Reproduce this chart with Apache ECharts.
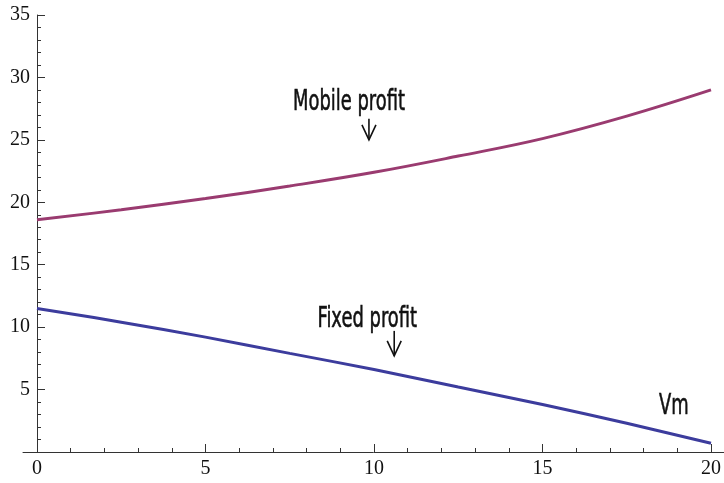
<!DOCTYPE html>
<html>
<head>
<meta charset="utf-8">
<style>
  html, body { margin: 0; padding: 0; background: #fff; }
  #chart { width: 724px; height: 483px; }
</style>
<script src="https://cdn.jsdelivr.net/npm/echarts@6/dist/echarts.min.js"></script>
</head>
<body>
<div id="chart"></div>
<script>
// Vm values sampled along the horizontal axis
const vm = [0, 2.5, 5, 7.5, 10, 12.5, 15, 17.5, 20];
// Profit curves
const mobileProfit = [18.6, 19.4, 20.3, 21.3, 22.4, 23.7, 25.1, 26.9, 29.0];
const fixedProfit  = [11.5, 10.4, 9.2, 7.9, 6.6, 5.2, 3.8, 2.3, 0.7];
// Axis ticks
const xTicks = [0, 5, 10, 15, 20];
const yTicks = [0, 5, 10, 15, 20, 25, 30, 35];

const MOBILE_COLOR = '#9a3b70';
const FIXED_COLOR = '#3c3c9d';
const AXIS_COLOR = '#333';
const TICK_FONT = '"Liberation Serif", "Times New Roman", serif';
const NOTE_FONT = '"DejaVu Sans", sans-serif';

const chart = echarts.init(document.getElementById('chart'), null, { renderer: 'canvas' });

const pairs = (xs, ys) => xs.map((x, i) => [x, ys[i]]);

const option = {
  animation: false,
  backgroundColor: '#fff',
  grid: [
    { left: 37, right: 11, top: 15, bottom: 31 },
    { left: 23, right: 0, top: 15, bottom: 31 }
  ],
  xAxis: [
    {
      type: 'value', gridIndex: 0,
      min: xTicks[0], max: xTicks[xTicks.length - 1], interval: 5,
      axisLine: { show: false },
      axisTick: { show: true, inside: true, length: 8, lineStyle: { color: AXIS_COLOR } },
      minorTick: { show: true, splitNumber: 5, length: 4, lineStyle: { color: AXIS_COLOR } },
      splitLine: { show: false },
      axisLabel: { color: '#111', fontFamily: TICK_FONT, fontSize: 20, margin: 7 }
    },
    {
      // full-width baseline that runs a little past the vertical axis
      type: 'value', gridIndex: 1, min: 0, max: 1,
      axisLine: { show: true, lineStyle: { color: AXIS_COLOR, width: 1 } },
      axisTick: { show: false }, axisLabel: { show: false }, splitLine: { show: false }
    }
  ],
  yAxis: [
    {
      type: 'value', gridIndex: 0,
      min: yTicks[0], max: yTicks[yTicks.length - 1], interval: 5,
      axisLine: { show: true, onZero: false, lineStyle: { color: AXIS_COLOR, width: 1 } },
      axisTick: { show: true, inside: true, length: 8, lineStyle: { color: AXIS_COLOR } },
      minorTick: { show: true, splitNumber: 5, length: 4, lineStyle: { color: AXIS_COLOR } },
      splitLine: { show: false },
      axisLabel: {
        color: '#111', fontFamily: TICK_FONT, fontSize: 20, margin: 7,
        showMinLabel: false
      }
    },
    { type: 'value', gridIndex: 1, show: false, min: 0, max: 1 }
  ],
  series: [
    {
      name: 'Mobile profit', type: 'line', xAxisIndex: 0, yAxisIndex: 0,
      data: pairs(vm, mobileProfit), smooth: 0.4, symbol: 'none',
      lineStyle: { color: MOBILE_COLOR, width: 3 }
    },
    {
      name: 'Fixed profit', type: 'line', xAxisIndex: 0, yAxisIndex: 0,
      data: pairs(vm, fixedProfit), smooth: 0.4, symbol: 'none',
      lineStyle: { color: FIXED_COLOR, width: 3 }
    }
  ]
};
chart.setOption(option);

// Annotations, anchored in data coordinates
const notes = [
  { text: 'Mobile profit', at: [9.26, 28.0] },
  { text: 'Fixed profit', at: [9.8, 10.56] },
  { text: 'Vm', at: [18.9, 3.6] }
];
const arrows = [
  { from: [9.85, 26.7], to: [9.85, 25.0] },
  { from: [10.6, 9.7], to: [10.6, 7.7] }
];

const px = (p) => chart.convertToPixel({ gridIndex: 0 }, p);
const graphics = [];
notes.forEach((n) => {
  const [x, y] = px(n.at);
  graphics.push({
    type: 'text', x: x, y: y, scaleX: 0.64, originX: 0, originY: 0,
    style: {
      text: n.text, fill: '#111', font: '28px ' + NOTE_FONT,
      align: 'center', verticalAlign: 'middle',
      stroke: '#111', lineWidth: 0.6
    }
  });
});
arrows.forEach((a) => {
  const [x1, y1] = px(a.from);
  const [x2, y2] = px(a.to);
  graphics.push({
    type: 'polyline',
    shape: { points: [[x1, y1], [x2, y2]] },
    style: { stroke: '#111', lineWidth: 1.6, fill: null }
  });
  graphics.push({
    type: 'polyline',
    shape: { points: [[x2 - 7, y2 - 15], [x2, y2], [x2 + 7, y2 - 15]] },
    style: { stroke: '#111', lineWidth: 1.6, fill: null }
  });
});
chart.setOption({ graphic: graphics });
</script>
</body>
</html>
